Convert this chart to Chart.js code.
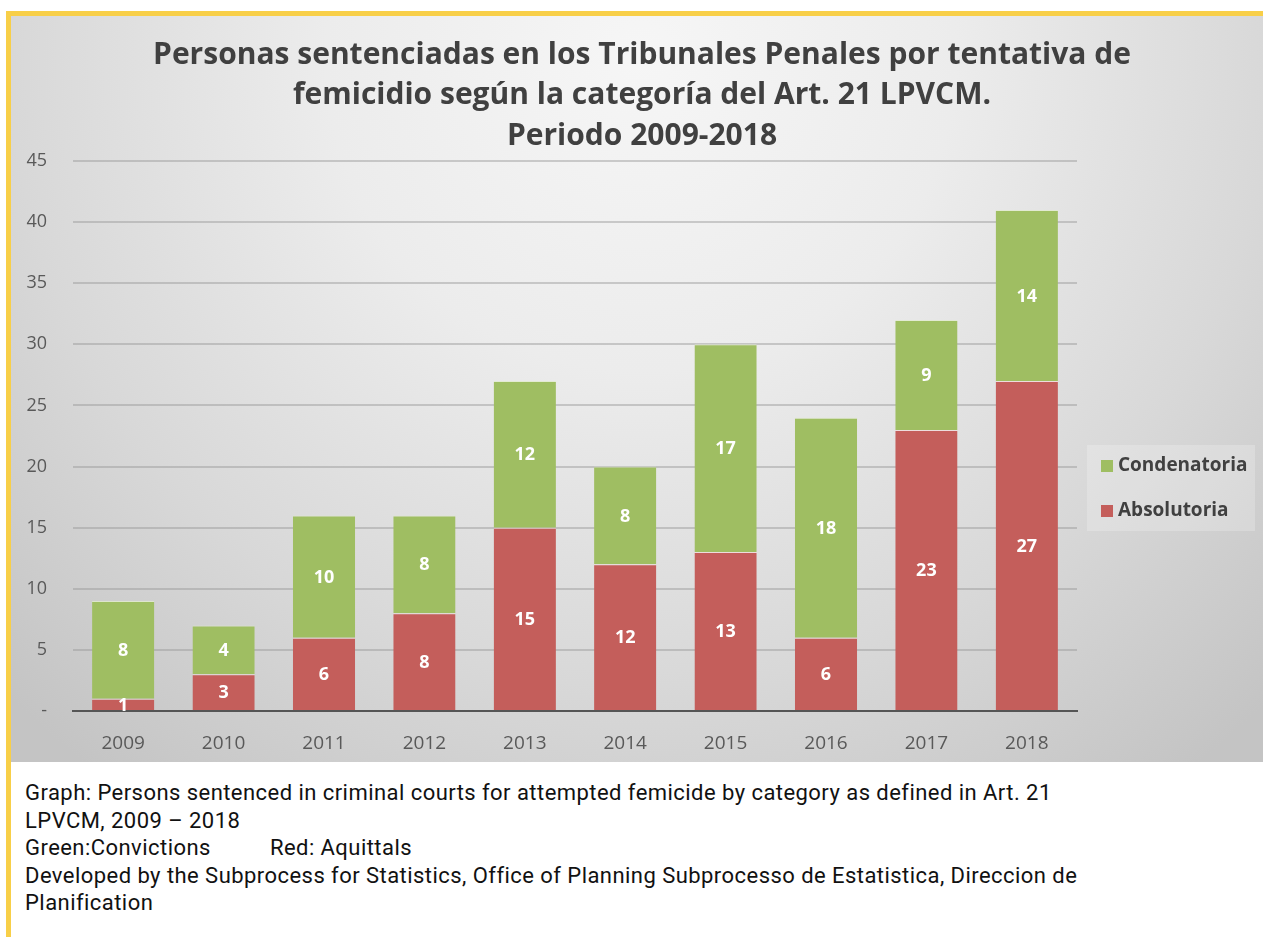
<!DOCTYPE html>
<html>
<head>
<meta charset="utf-8">
<script src="https://cdn.jsdelivr.net/npm/chart.js@4/dist/chart.umd.min.js"></script>
<style>
  html, body { margin: 0; padding: 0; background: #ffffff; width: 1263px; height: 937px; overflow: hidden; }
  #topline { position: absolute; left: 6px; top: 11px; width: 1257px; height: 5px; background: #f8cf48; }
  #leftline { position: absolute; left: 6px; top: 11px; width: 5px; height: 926px; background: #f8cf48; }
  #wrap { position: absolute; left: 11px; top: 16px; width: 1252px; height: 746px; }
  #caption { position: absolute; left: 25px; top: 779px; width: 1230px; white-space: nowrap; font-family: "Roboto", "DejaVu Sans", sans-serif; font-size: 22px; letter-spacing: 0.45px; line-height: 27.6px; color: #111; }
</style>
</head>
<body>
<div id="topline"></div>
<div id="leftline"></div>
<div id="wrap"><canvas id="c" width="1252" height="746"></canvas></div>
<div id="caption">Graph: Persons sentenced in criminal courts for attempted femicide by category as defined in Art. 21<br>LPVCM, 2009 – 2018<br>Green:Convictions&nbsp;&nbsp;&nbsp;&nbsp;&nbsp;&nbsp;&nbsp;&nbsp;&nbsp;&nbsp;Red: Aquittals<br>Developed by the Subprocess for Statistics, Office of Planning Subprocesso de Estatistica, Direccion de<br>Planification</div>
<script>
const years = ["2009","2010","2011","2012","2013","2014","2015","2016","2017","2018"];
const absolutoria = [1, 3, 6, 8, 15, 12, 13, 6, 23, 27];
const condenatoria = [8, 4, 10, 8, 12, 8, 17, 18, 9, 14];
const seriesNames = ["Absolutoria", "Condenatoria"];
const titleLines = ["Personas sentenciadas en los Tribunales Penales por tentativa de", "femicidio según la categoría del Art. 21 LPVCM.", "Periodo 2009-2018"];

const bgPlugin = {
  id: 'bg',
  beforeDraw(chart) {
    const ctx = chart.ctx, w = chart.width, h = chart.height;
    ctx.save();
    const g = ctx.createRadialGradient(630, 40, 0, 630, 40, 900);
    g.addColorStop(0, '#f6f6f6');
    g.addColorStop(0.35, '#ececec');
    g.addColorStop(0.7, '#d8d8d8');
    g.addColorStop(1, '#c4c4c4');
    ctx.fillStyle = g;
    ctx.fillRect(0, 0, w, h);
    // title
    ctx.fillStyle = '#404040';
    ctx.font = 'bold 30px "Open Sans", sans-serif';
    ctx.textAlign = 'center';
    ctx.textBaseline = 'middle';
    titleLines.forEach((t, i) => ctx.fillText(t, 631, 39 + i * 40.5));
    ctx.restore();
  }
};

const labelPlugin = {
  id: 'segLabels',
  afterDatasetsDraw(chart) {
    const ctx = chart.ctx;
    ctx.save();
    ctx.fillStyle = '#ffffff';
    ctx.font = 'bold 18px "Open Sans", sans-serif';
    ctx.textAlign = 'center';
    ctx.textBaseline = 'middle';
    chart.data.datasets.forEach((ds, di) => {
      const meta = chart.getDatasetMeta(di);
      meta.data.forEach((bar, i) => {
        const v = ds.data[i];
        const y = (bar.y + bar.base) / 2;
        ctx.fillText(String(v), bar.x, y + 1);
      });
    });
    ctx.restore();
  }
};

const legendPlugin = {
  id: 'customLegend',
  afterDraw(chart) {
    const ctx = chart.ctx;
    const x0 = chart.chartArea.right + 10;
    const y0 = 429;
    ctx.save();
    ctx.fillStyle = 'rgba(255,255,255,0.22)';
    ctx.fillRect(x0, y0, 168, 86);
    ctx.font = 'bold 19px "Open Sans", sans-serif';
    ctx.textBaseline = 'middle';
    const items = chart.data.datasets.map((d) => d).reverse();
    items.forEach((ds, k) => {
      const cy = y0 + 21 + k * 45;
      ctx.fillStyle = ds.backgroundColor;
      ctx.fillRect(x0 + 14, cy - 6, 12, 12);
      ctx.fillStyle = '#404040';
      ctx.fillText(ds.label, x0 + 31, cy);
    });
    ctx.restore();
  }
};

new Chart(document.getElementById('c'), {
  type: 'bar',
  data: {
    labels: years,
    datasets: [
      { label: seriesNames[0], data: absolutoria, backgroundColor: '#c45e5b', borderColor: 'rgba(240,220,220,0.8)', borderWidth: { top: 1, left: 0, right: 0, bottom: 0 }, borderSkipped: false },
      { label: seriesNames[1], data: condenatoria, backgroundColor: '#9fbe62', borderColor: 'rgba(225,235,205,0.8)', borderWidth: { top: 1, left: 0, right: 0, bottom: 0 }, borderSkipped: false }
    ]
  },
  options: {
    responsive: false,
    animation: false,
    layout: { padding: { left: 0, right: 186, top: 145, bottom: 0 } },
    datasets: { bar: { categoryPercentage: 1.0, barPercentage: 0.62 } },
    plugins: {
      legend: { display: false },
      tooltip: { enabled: false },
      title: { display: false }
    },
    scales: {
      x: {
        stacked: true,
        afterFit(scale) { scale.height = 51; },
        grid: { display: false, drawTicks: false },
        border: { display: true, color: '#555555', width: 2 },
        ticks: { color: '#595959', font: { family: '"Open Sans", sans-serif', size: 19 }, padding: 21 }
      },
      y: {
        stacked: true,
        min: 0, max: 45,
        afterFit(scale) { scale.width = 62; },
        grid: { color: 'rgba(150,150,150,0.45)', lineWidth: 2, drawTicks: false },
        border: { display: false },
        ticks: {
          stepSize: 5,
          color: '#595959',
          font: { family: '"Open Sans", sans-serif', size: 18 },
          padding: 26,
          callback: (v) => v === 0 ? '-' : String(v)
        }
      }
    }
  },
  plugins: [bgPlugin, labelPlugin, legendPlugin]
});
</script>
</body>
</html>
